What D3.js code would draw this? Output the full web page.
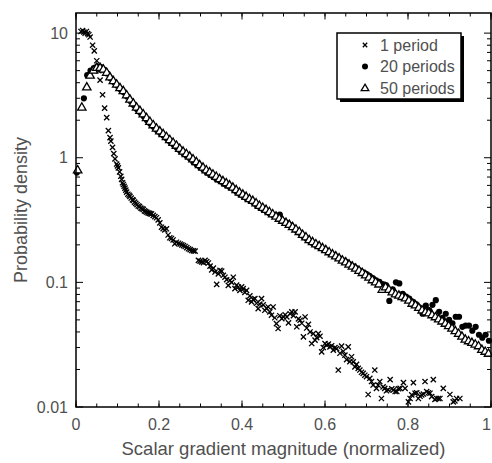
<!DOCTYPE html>
<html>
<head>
<meta charset="utf-8">
<script src="https://cdn.jsdelivr.net/npm/d3@7"></script>
<style>
  body { margin: 0; background: #fff; }
  text { font-family: "Liberation Sans", Arial, sans-serif; fill: #505050; }
</style>
</head>
<body>
<div id="chart-area"></div>
<script>

let width = 492,
    height = 463;

// data: [gradient magnitude, probability density]
let onePeriod = [
  [0.012,10.3],[0.016,10.5],[0.019,10.2],[0.022,10.0],[0.025,10.3],[0.028,9.9],[0.031,9.7],[0.034,9.3],
  [0.040,8.0],[0.044,7.2],[0.050,6.0],[0.055,5.0],[0.058,4.2],[0.064,3.2],[0.069,2.5],[0.074,2.1],
  [0.078,1.65],[0.082,1.45],[0.084,1.36],[0.088,1.21],[0.091,1.08],[0.094,0.98],[0.098,0.89],[0.100,0.86],
  [0.102,0.83],[0.105,0.77],[0.108,0.71],[0.110,0.67],[0.112,0.63],[0.114,0.61],[0.116,0.59],[0.118,0.57],
  [0.120,0.55],[0.122,0.53],[0.125,0.51],[0.128,0.50],[0.130,0.49],[0.133,0.475],[0.136,0.46],[0.138,0.455],
  [0.141,0.44],[0.144,0.43],[0.147,0.42],[0.150,0.41],[0.153,0.405],[0.156,0.395],[0.159,0.39],[0.162,0.385],
  [0.165,0.375],[0.168,0.37],[0.171,0.365],[0.174,0.36],[0.177,0.358],[0.180,0.355],[0.182,0.354],[0.186,0.345],
  [0.190,0.337],[0.194,0.33],[0.198,0.317],[0.202,0.30],[0.206,0.277],[0.210,0.27],[0.214,0.264],[0.218,0.269],
  [0.222,0.24],[0.226,0.228],[0.230,0.225],[0.234,0.219],[0.238,0.204],[0.242,0.21],[0.247,0.206],[0.251,0.203],
  [0.255,0.200],[0.259,0.197],[0.263,0.194],[0.267,0.19],[0.271,0.186],[0.275,0.183],[0.279,0.180],[0.283,0.179],
  [0.287,0.178],[0.295,0.150],[0.299,0.148],[0.303,0.146],[0.307,0.144],[0.311,0.150],[0.315,0.147],[0.319,0.143],
  [0.323,0.135],[0.327,0.126],[0.331,0.13],[0.335,0.121],[0.339,0.0964],[0.343,0.117],[0.347,0.125],[0.351,0.123],
  [0.355,0.114],[0.359,0.110],[0.363,0.105],[0.367,0.0946],[0.371,0.104],[0.375,0.100],[0.379,0.110],[0.383,0.089],
  [0.387,0.095],[0.391,0.0918],[0.395,0.0863],[0.399,0.092],[0.403,0.089],[0.407,0.083],[0.411,0.0863],[0.415,0.0718],
  [0.419,0.078],[0.423,0.0697],[0.427,0.073],[0.431,0.074],[0.435,0.068],[0.439,0.0615],[0.443,0.067],[0.447,0.074],
  [0.451,0.066],[0.455,0.0597],[0.459,0.062],[0.463,0.0635],[0.467,0.058],[0.471,0.0545],[0.475,0.0635],[0.479,0.052],
  [0.483,0.0467],[0.487,0.0426],[0.491,0.054],[0.496,0.0512],[0.500,0.0528],[0.504,0.055],[0.508,0.0528],[0.512,0.0473],
  [0.516,0.056],[0.520,0.058],[0.524,0.054],[0.528,0.058],[0.532,0.044],[0.536,0.051],[0.540,0.0497],[0.544,0.047],
  [0.548,0.0365],[0.552,0.0528],[0.556,0.043],[0.560,0.0461],[0.564,0.040],[0.568,0.0323],[0.572,0.0388],[0.576,0.0344],
  [0.580,0.036],[0.584,0.0388],[0.588,0.037],[0.592,0.0277],[0.596,0.030],[0.600,0.0323],[0.604,0.0313],[0.608,0.032],
  [0.612,0.0304],[0.616,0.031],[0.620,0.0286],[0.624,0.030],[0.628,0.0294],[0.632,0.0198],[0.636,0.027],[0.640,0.0308],
  [0.644,0.028],[0.648,0.0261],[0.652,0.024],[0.656,0.0304],[0.660,0.0231],[0.664,0.0253],[0.668,0.023],[0.672,0.0210],
  [0.676,0.022],[0.680,0.0204],[0.684,0.0198],[0.688,0.019],[0.692,0.0186],[0.696,0.018],[0.700,0.0175],[0.704,0.0126],
  [0.708,0.017],[0.712,0.0160],[0.716,0.015],[0.720,0.0198],[0.724,0.0141],[0.728,0.015],[0.732,0.0160],[0.736,0.0117],
  [0.740,0.0145],[0.744,0.0141],[0.748,0.0135],[0.752,0.0137],[0.757,0.0166],[0.761,0.014],[0.765,0.0137],[0.769,0.0133],
  [0.773,0.0133],[0.777,0.014],[0.781,0.0141],[0.789,0.0157],[0.793,0.0141],[0.801,0.0110],[0.805,0.0117],[0.809,0.0125],
  [0.813,0.0157],[0.817,0.0129],[0.821,0.013],[0.825,0.0117],[0.829,0.0122],[0.833,0.0125],[0.837,0.0127],[0.841,0.0160],
  [0.845,0.0133],[0.849,0.013],[0.853,0.0129],[0.857,0.0121],[0.861,0.0166],[0.865,0.0115],[0.869,0.0117],[0.873,0.0117],
  [0.877,0.0117],[0.885,0.0141],[0.901,0.0126],[0.909,0.0110],[0.913,0.0112],[0.917,0.0117],[0.925,0.0117]
];

let twentyPeriods = [
  [0.002,0.76],[0.019,3.0],[0.027,4.6],[0.035,5.0],[0.043,5.25],[0.051,5.4],[0.059,5.35],[0.067,5.1],
  [0.075,4.75],[0.083,4.35],[0.091,4.05],[0.099,3.8],[0.107,3.55],[0.115,3.35],[0.123,3.1],[0.131,2.85],
  [0.139,2.65],[0.147,2.45],[0.155,2.3],[0.163,2.15],[0.171,2.0],[0.179,1.87],[0.187,1.77],[0.195,1.66],
  [0.203,1.58],[0.211,1.5],[0.219,1.42],[0.227,1.34],[0.235,1.27],[0.243,1.2],[0.251,1.14],[0.259,1.08],
  [0.267,1.03],[0.275,0.98],[0.283,0.92],[0.291,0.88],[0.299,0.84],[0.307,0.80],[0.315,0.76],[0.323,0.73],
  [0.331,0.70],[0.339,0.67],[0.347,0.65],[0.355,0.62],[0.363,0.60],[0.371,0.58],[0.379,0.56],[0.387,0.53],
  [0.395,0.51],[0.403,0.49],[0.411,0.47],[0.419,0.455],[0.427,0.44],[0.435,0.415],[0.443,0.40],[0.451,0.385],
  [0.459,0.37],[0.467,0.355],[0.475,0.345],[0.483,0.34],[0.491,0.35],[0.499,0.31],[0.507,0.30],[0.515,0.29],
  [0.523,0.275],[0.531,0.262],[0.539,0.25],[0.547,0.236],[0.555,0.225],[0.563,0.215],[0.571,0.205],[0.579,0.198],
  [0.587,0.192],[0.595,0.186],[0.603,0.18],[0.611,0.173],[0.619,0.167],[0.627,0.161],[0.635,0.156],[0.643,0.150],
  [0.651,0.146],[0.659,0.140],[0.667,0.135],[0.675,0.130],[0.683,0.125],[0.691,0.121],[0.699,0.117],[0.707,0.113],
  [0.715,0.108],[0.723,0.104],[0.731,0.101],[0.739,0.097],[0.747,0.095],[0.755,0.071],[0.763,0.088],[0.771,0.100],
  [0.779,0.098],[0.787,0.081],[0.795,0.077],[0.803,0.074],[0.811,0.070],[0.819,0.067],[0.827,0.063],[0.835,0.056],
  [0.843,0.065],[0.851,0.060],[0.859,0.066],[0.867,0.072],[0.875,0.058],[0.883,0.052],[0.891,0.056],[0.899,0.050],
  [0.907,0.047],[0.915,0.053],[0.923,0.053],[0.931,0.044],[0.939,0.045],[0.947,0.045],[0.955,0.041],[0.963,0.044],
  [0.971,0.038],[0.979,0.036],[0.987,0.038],[0.995,0.034]
];

let fiftyPeriods = [
  [0.004,0.80],[0.014,2.55],[0.026,3.7],[0.034,4.6],[0.042,5.05],[0.050,5.3],[0.058,5.3],[0.066,5.15],
  [0.074,4.85],[0.082,4.45],[0.090,4.15],[0.098,3.9],[0.106,3.65],[0.114,3.45],[0.122,3.2],[0.130,2.95],
  [0.138,2.75],[0.146,2.55],[0.154,2.4],[0.162,2.25],[0.170,2.1],[0.178,1.96],[0.186,1.84],[0.194,1.73],
  [0.202,1.64],[0.210,1.56],[0.218,1.48],[0.226,1.40],[0.234,1.33],[0.242,1.26],[0.250,1.19],[0.258,1.13],
  [0.266,1.08],[0.274,1.03],[0.282,0.98],[0.290,0.93],[0.298,0.88],[0.306,0.84],[0.314,0.80],[0.322,0.77],
  [0.330,0.74],[0.338,0.71],[0.346,0.68],[0.354,0.655],[0.362,0.63],[0.370,0.605],[0.378,0.58],[0.386,0.555],
  [0.394,0.53],[0.402,0.51],[0.410,0.49],[0.418,0.47],[0.426,0.455],[0.434,0.435],[0.442,0.415],[0.450,0.40],
  [0.458,0.385],[0.466,0.37],[0.474,0.355],[0.482,0.34],[0.490,0.327],[0.498,0.315],[0.506,0.303],[0.514,0.292],
  [0.522,0.28],[0.530,0.268],[0.538,0.256],[0.546,0.243],[0.554,0.232],[0.562,0.220],[0.570,0.212],[0.578,0.204],
  [0.586,0.197],[0.594,0.190],[0.602,0.183],[0.610,0.176],[0.618,0.169],[0.626,0.163],[0.634,0.157],[0.642,0.151],
  [0.650,0.146],[0.658,0.140],[0.666,0.135],[0.674,0.130],[0.682,0.125],[0.690,0.120],[0.698,0.115],[0.706,0.110],
  [0.714,0.105],[0.722,0.101],[0.730,0.097],[0.738,0.088],[0.746,0.092],[0.754,0.088],[0.762,0.084],[0.770,0.081],
  [0.778,0.079],[0.786,0.077],[0.794,0.075],[0.802,0.072],[0.810,0.068],[0.818,0.066],[0.826,0.063],[0.834,0.060],
  [0.842,0.058],[0.850,0.057],[0.858,0.055],[0.866,0.053],[0.874,0.051],[0.882,0.049],[0.890,0.047],[0.898,0.045],
  [0.906,0.043],[0.914,0.041],[0.922,0.039],[0.930,0.037],[0.938,0.035],[0.946,0.034],[0.954,0.033],[0.962,0.032],
  [0.970,0.031],[0.978,0.029],[0.986,0.028],[0.994,0.027]
];

let seriesNames = ["1 period", "20 periods", "50 periods"];
let xMajorTicks = [0, 0.2, 0.4, 0.6, 0.8, 1];
let xMinorTicks = d3.range(0, 1.0001, 0.05);
let yMajorTicks = [0.01, 0.1, 1, 10];
let yTickLabels = ["0.01", "0.1", "1", "10"];

let margin = {left: 76, right: 1, top: 13, bottom: 56};

let svg = d3.select("#chart-area").append("svg")
    .attr("width", width)
    .attr("height", height);

let x = d3.scaleLinear().domain([0, 1]).range([margin.left, width - margin.right]);
let y = d3.scaleLog().domain([0.01, 14.5]).range([height - margin.bottom, margin.top]);

// minor log ticks 2..9 in each decade
let yMinorTicks = [];
[0.01, 0.1, 1].forEach(function(d) {
  for (let k = 2; k <= 9; k++) yMinorTicks.push(d * k);
});

let x0 = x(0), x1 = x(1), y0 = y.range()[0], y1 = y.range()[1];

// ticks, all pointing inward
let ticks = svg.append("g").attr("stroke", "#000").attr("stroke-width", 1);

function tickLines(vals, len, side) {
  vals.forEach(function(v) {
    if (side == "bottom" || side == "top") {
      let px = x(v), py = side == "bottom" ? y0 : y1, s = side == "bottom" ? -1 : 1;
      ticks.append("line").attr("x1", px).attr("x2", px).attr("y1", py).attr("y2", py + s * len);
    } else {
      let py = y(v), px = side == "left" ? x0 : x1, s = side == "left" ? 1 : -1;
      ticks.append("line").attr("x1", px).attr("x2", px + s * len).attr("y1", py).attr("y2", py);
    }
  });
}
tickLines(xMinorTicks, 3.5, "bottom");
tickLines(xMinorTicks, 3.5, "top");
tickLines(xMajorTicks, 6.5, "bottom");
tickLines(xMajorTicks, 6.5, "top");
tickLines(yMinorTicks, 4, "left");
tickLines(yMinorTicks, 4, "right");
tickLines(yMajorTicks, 7, "left");
tickLines(yMajorTicks, 7, "right");

// tick labels (the last one is pulled in so it stays on the page)
svg.append("g").selectAll("text")
  .data(xMajorTicks)
  .enter().append("text")
  .attr("x", function(d) { return d == 1 ? width - 1 : x(d); })
  .attr("y", y0 + 23)
  .attr("text-anchor", function(d) { return d == 1 ? "end" : "middle"; })
  .style("font-size", "16px")
  .text(function(d) { return d3.format("~g")(d); });

svg.append("g").selectAll("text")
  .data(yMajorTicks)
  .enter().append("text")
  .attr("x", x0 - 8)
  .attr("y", function(d) { return y(d) + 5.5; })
  .attr("text-anchor", "end")
  .style("font-size", "16px")
  .text(function(d, i) { return yTickLabels[i]; });

// axis titles
svg.append("text")
  .attr("x", (x0 + x1) / 2)
  .attr("y", 455)
  .attr("text-anchor", "middle")
  .style("font-size", "18.5px")
  .text("Scalar gradient magnitude (normalized)");

svg.append("text")
  .attr("transform", "translate(27," + ((y0 + y1) / 2) + ") rotate(-90)")
  .attr("text-anchor", "middle")
  .style("font-size", "18px")
  .text("Probability density");

// markers
let crossPath = "M-2.6,-2.6L2.6,2.6M-2.6,2.6L2.6,-2.6";
let triPath = "M0,-4.3L4.2,3L-4.2,3Z";

let g = svg.append("g");

g.selectAll(".p1")
  .data(onePeriod)
  .enter().append("path")
  .attr("class", "p1")
  .attr("d", crossPath)
  .attr("transform", function(d) { return "translate(" + x(d[0]) + "," + y(d[1]) + ")"; })
  .attr("stroke", "#000")
  .attr("stroke-width", 1.3)
  .attr("fill", "none");

g.selectAll(".p20")
  .data(twentyPeriods)
  .enter().append("circle")
  .attr("class", "p20")
  .attr("cx", function(d) { return x(d[0]); })
  .attr("cy", function(d) { return y(d[1]); })
  .attr("r", 3.1)
  .attr("fill", "#000");

g.selectAll(".p50")
  .data(fiftyPeriods)
  .enter().append("path")
  .attr("class", "p50")
  .attr("d", triPath)
  .attr("transform", function(d) { return "translate(" + x(d[0]) + "," + y(d[1]) + ")"; })
  .attr("stroke", "#000")
  .attr("stroke-width", 1.3)
  .attr("fill", "#fff");

// frame
svg.append("rect")
  .attr("x", x0).attr("y", y1)
  .attr("width", x1 - x0).attr("height", y0 - y1)
  .attr("fill", "none")
  .attr("stroke", "#000")
  .attr("stroke-width", 1.5);

// legend with drop shadow
let legend = svg.append("g").attr("transform", "translate(337,33)");
legend.append("rect")
  .attr("x", 3).attr("y", 3).attr("width", 124).attr("height", 66)
  .attr("fill", "#000");
legend.append("rect")
  .attr("x", 0).attr("y", 0).attr("width", 124).attr("height", 66)
  .attr("fill", "#fff").attr("stroke", "#000").attr("stroke-width", 1.5);

seriesNames.forEach(function(name, i) {
  let row = legend.append("g").attr("transform", "translate(28," + (12 + i * 21.5) + ")");
  if (i == 0) {
    row.append("path").attr("d", "M-2.2,-2.2L2.2,2.2M-2.2,2.2L2.2,-2.2")
      .attr("stroke", "#000").attr("stroke-width", 1.3);
  } else if (i == 1) {
    row.append("circle").attr("r", 3).attr("fill", "#000");
  } else {
    row.append("path").attr("d", "M0,-3.8L3.8,2.6L-3.8,2.6Z")
      .attr("stroke", "#000").attr("stroke-width", 1.3).attr("fill", "#fff");
  }
  row.append("text")
    .attr("x", 15)
    .attr("y", 5.5)
    .style("font-size", "16px")
    .text(name);
});

</script>
</body>
</html>
